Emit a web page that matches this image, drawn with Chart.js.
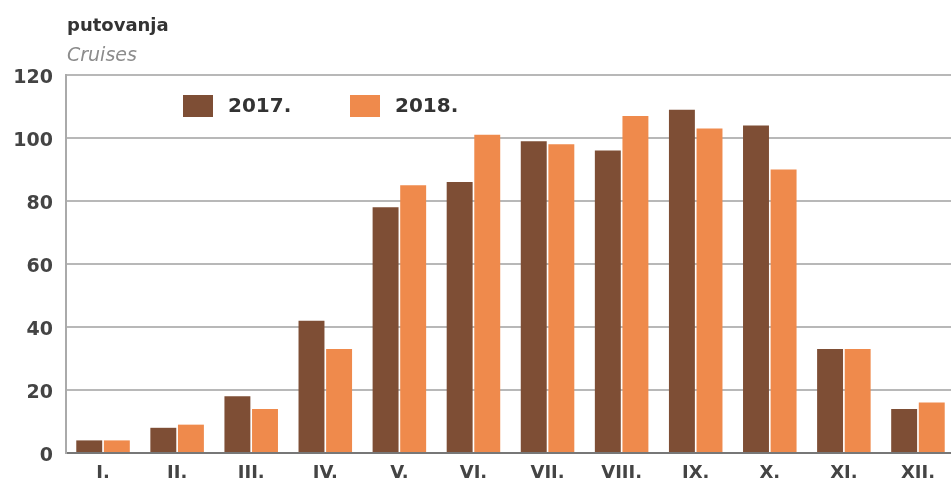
<!DOCTYPE html>
<html>
<head>
<meta charset="utf-8">
<script src="https://cdn.jsdelivr.net/npm/chart.js@4"></script>
<style>
	html, body { margin: 0; padding: 0; background: #fff; overflow: hidden; }
	#wrap { width: 955px; height: 486px; }
</style>
</head>
<body>
<div id="wrap"><canvas id="myChart"></canvas></div>
<script>
const months = ["I.", "II.", "III.", "IV.", "V.", "VI.", "VII.", "VIII.", "IX.", "X.", "XI.", "XII."];
const values2017 = [4, 8, 18, 42, 78, 86, 99, 96, 109, 104, 33, 14];
const values2018 = [4, 9, 14, 33, 85, 101, 98, 107, 103, 90, 33, 16];
const yTicks = [0, 20, 40, 60, 80, 100, 120];

const brown = "#7e4e35";
const orange = "#ef8a4c";
const font = "'DejaVu Sans', sans-serif";

// title and in-plot legend
const extras = {
	id: "extras",
	afterDraw(chart) {
		const c = chart.ctx;
		c.save();
		c.textBaseline = "alphabetic";
		c.textAlign = "left";
		c.fillStyle = "#333";
		c.font = "bold 18px " + font;
		c.fillText("putovanja", 67, 31);
		c.fillStyle = "#8c8c8c";
		c.font = "oblique 19px " + font;
		c.fillText("Cruises", 67, 61);

		const items = [
			{ x: 183, ds: chart.data.datasets[0] },
			{ x: 350, ds: chart.data.datasets[1] },
		];
		items.forEach((it) => {
			c.fillStyle = it.ds.backgroundColor;
			c.fillRect(it.x, 95, 30, 22);
			c.fillStyle = "#333";
			c.font = "bold 20px " + font;
			c.textBaseline = "middle";
			c.fillText(it.ds.label, it.x + 45, 107);
		});
		c.restore();
	},
};

const ctx = document.getElementById("myChart");
new Chart(ctx, {
	type: "bar",
	data: {
		labels: months,
		datasets: [
			{ label: "2017.", data: values2017, backgroundColor: brown },
			{ label: "2018.", data: values2018, backgroundColor: orange },
		],
	},
	options: {
		responsive: true,
		maintainAspectRatio: false,
		animation: false,
		layout: { padding: { top: 75, right: 0, left: 0, bottom: 0 } },
		datasets: {
			bar: { categoryPercentage: 0.745, barPercentage: 0.94 },
		},
		plugins: {
			legend: { display: false },
			tooltip: { enabled: false },
		},
		scales: {
			x: {
				grid: { display: false },
				border: { color: "#777", width: 2 },
				ticks: {
					color: "#444",
					font: { family: font, size: 18, weight: "bold" },
					padding: 2,
				},
				afterFit(scale) {
					scale.height = 33;
				},
			},
			y: {
				min: 0,
				max: 120,
				afterBuildTicks(scale) {
					scale.ticks = yTicks.map((v) => ({ value: v }));
				},
				grid: { color: "#b8b8b8", lineWidth: 2, drawTicks: false },
				border: { display: true, color: "#aaa", width: 2 },
				ticks: {
					color: "#444",
					font: { family: font, size: 19, weight: "bold" },
					padding: 13,
					labelOffset: 3,
				},
				afterFit(scale) {
					scale.width = 66;
				},
			},
		},
	},
	plugins: [extras],
});
</script>
</body>
</html>
